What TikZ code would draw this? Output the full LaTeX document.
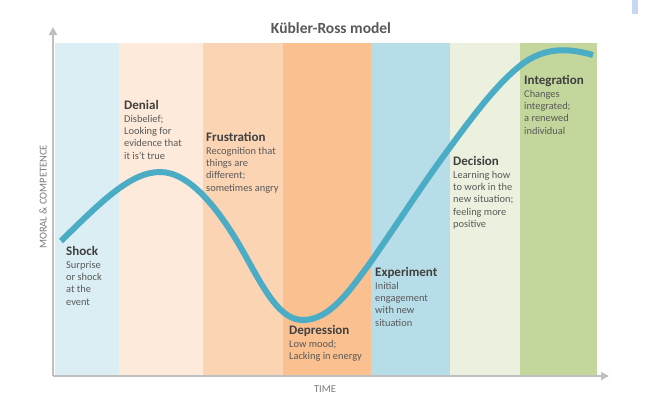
\documentclass[tikz,border=0pt]{standalone}
\usepackage{fontspec}
\setmainfont{Carlito}
\usepackage{tikz}
\usetikzlibrary{arrows.meta}
\definecolor{ShockBg}{HTML}{DAEEF3}
\definecolor{DenialBg}{HTML}{FDEADA}
\definecolor{FrustrationBg}{HTML}{FBD4B4}
\definecolor{DepressionBg}{HTML}{FAC090}
\definecolor{ExperimentBg}{HTML}{B7DDE8}
\definecolor{DecisionBg}{HTML}{EBF1DE}
\definecolor{IntegrationBg}{HTML}{C3D69B}
\definecolor{CurveBlue}{HTML}{4BACC6}
\definecolor{AxisGray}{HTML}{BFBFBF}
\definecolor{HeadGray}{HTML}{404040}
\definecolor{BodyGray}{HTML}{595959}
\definecolor{CornerBlue}{HTML}{C9D7F7}
\newcommand{\stagehead}[1]{{\fontsize{13}{14}\selectfont\bfseries\color{HeadGray}#1}}
\tikzset{
  stage label/.style={
    anchor=north west,
    align=left,
    inner sep=0pt,
    text=BodyGray,
    font=\fontsize{10.4}{12.2}\selectfont
  },
  km axis/.style={
    draw=AxisGray,
    line width=2pt,
    -{Triangle[length=8pt,width=8pt]}
  },
  km curve/.style={
    draw=CurveBlue,
    line width=6pt
  },
  axis label/.style={
    inner sep=0pt,
    text=BodyGray!80,
    font=\fontsize{10.5}{12}\selectfont
  }
}

\begin{document}
\begin{tikzpicture}[x=1pt, y=-1pt]
        \useasboundingbox (0,0) rectangle (650,413);
        \fill[CornerBlue] (632,0) rectangle (638,14);

        % stage bands
        \foreach \xa/\xb/\bandcol in {55/119/ShockBg, 119/203/DenialBg, 203/283/FrustrationBg,
                                      283/371/DepressionBg, 371/450/ExperimentBg,
                                      450/520/DecisionBg, 520/597/IntegrationBg}
          \fill[\bandcol] (\xa,43) rectangle (\xb,375);

        % axes
        \coordinate (origin) at (53,376);
        \coordinate (ytip) at (53,27);
        \coordinate (xtip) at (609,376);
        \draw[km axis] (origin) -- (ytip);
        \draw[km axis] (origin) -- (xtip);

        \node[font=\fontsize{15.5}{17}\selectfont\bfseries, text=BodyGray] (title) at (331,28) {Kübler-Ross model};
        \node[axis label] (time) at (325,389) {TIME};
        \node[axis label, rotate=90] (moral) at (43,197) {MORAL \& COMPETENCE};

        % the change curve
        \draw[km curve] (61,241) .. controls (100,203) and (130,172) .. (160,172)
                        .. controls (190,172) and (220,210) .. (245,255)
                        .. controls (265,291) and (280,320) .. (303,320)
                        .. controls (330,320) and (350,290) .. (370,263)
                        .. controls (400,220) and (420,188) .. (448,150)
                        .. controls (475,113) and (500,80) .. (525,62)
                        .. controls (550,45) and (575,50) .. (593,55);

        % stage texts
        \node[stage label] (shock) at (66,246) {\stagehead{Shock}\\[1pt] Surprise\\ or shock\\ at the\\ event};
        \node[stage label] (denial) at (124,100) {\stagehead{Denial}\\[1pt] Disbelief;\\ Looking for\\ evidence that\\ it is't true};
        \node[stage label] (frustration) at (206,132) {\stagehead{Frustration}\\[1pt] Recognition that\\ things are\\ different;\\ sometimes angry};
        \node[stage label] (depression) at (289,325) {\stagehead{Depression}\\[1pt] Low mood;\\ Lacking in energy};
        \node[stage label] (experiment) at (375,267) {\stagehead{Experiment}\\[1pt] Initial\\ engagement\\ with new\\ situation};
        \node[stage label] (decision) at (453,156) {\stagehead{Decision}\\[1pt] Learning how\\ to work in the\\ new situation;\\ feeling more\\ positive};
        \node[stage label] (integration) at (524,75) {\stagehead{Integration}\\[1pt] Changes\\ integrated;\\ a renewed\\ individual};
      \end{tikzpicture}
\end{document}
